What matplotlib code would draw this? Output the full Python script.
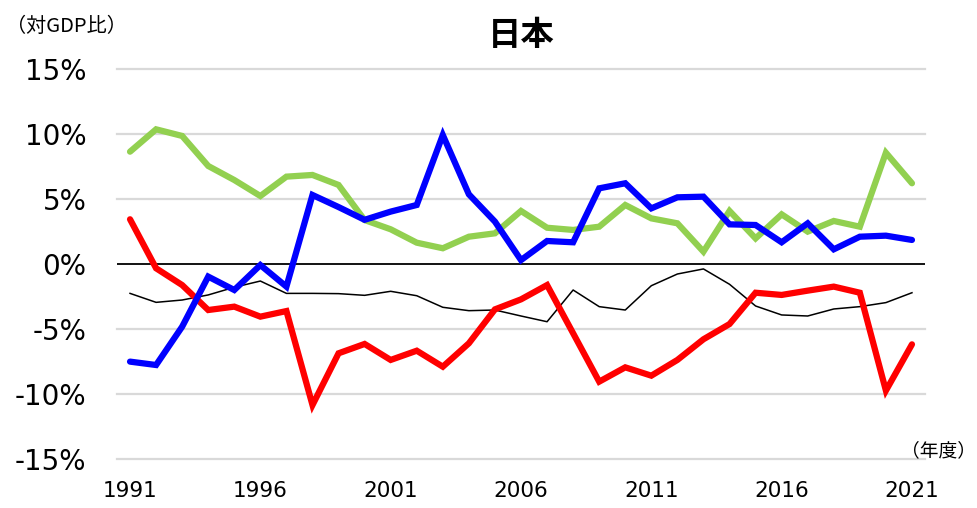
import numpy as np
import matplotlib.pyplot as plt

plt.rcParams['font.family'] = ['DejaVu Sans', 'Noto Sans CJK JP']

# 年度
years = list(range(1991, 2022))

# 各部門の収支（対GDP比, %）
green = [8.64, 10.36, 9.85, 7.54, 6.46, 5.23, 6.72, 6.85, 6.08, 3.38,
         2.67, 1.64, 1.21, 2.10, 2.36, 4.08, 2.79, 2.62, 2.87, 4.54,
         3.51, 3.13, 0.95, 4.08, 1.97, 3.82, 2.49, 3.31, 2.87, 8.56, 6.21]
blue = [-7.51, -7.77, -4.82, -0.97, -2.00, -0.08, -1.74, 5.31, 4.38, 3.40,
        4.03, 4.54, 9.92, 5.36, 3.26, 0.30, 1.77, 1.67, 5.82, 6.21,
        4.28, 5.13, 5.18, 3.05, 3.00, 1.67, 3.13, 1.13, 2.10, 2.18, 1.85]
red = [3.44, -0.33, -1.62, -3.54, -3.28, -4.05, -3.62, -10.85, -6.87, -6.15,
       -7.38, -6.67, -7.90, -6.10, -3.49, -2.72, -1.62, -5.33, -9.05, -7.95,
       -8.59, -7.38, -5.79, -4.62, -2.21, -2.38, -2.05, -1.74, -2.21, -9.74, -6.18]
black = [-2.26, -2.95, -2.77, -2.38, -1.79, -1.31, -2.26, -2.26, -2.28, -2.41,
         -2.10, -2.44, -3.33, -3.59, -3.54, -4.00, -4.44, -2.00, -3.28, -3.54,
         -1.67, -0.77, -0.38, -1.56, -3.23, -3.92, -4.00, -3.46, -3.28, -2.97, -2.21]

yticks = [-15, -10, -5, 0, 5, 10, 15]
ytick_labels = ['-15%', '-10%', '-5%', '0%', '5%', '10%', '15%']
xtick_years = [1991, 1996, 2001, 2006, 2011, 2016, 2021]

fig = plt.figure(figsize=(9.78, 5.08), dpi=100)
ax = fig.add_axes([117 / 978, 49 / 508, 808 / 978, 390 / 508])

x = np.arange(len(years))

# 目盛線
for v in yticks:
    if v == 0:
        continue
    ax.axhline(v, color='#d9d9d9', lw=1.6, zorder=1, clip_on=False)
ax.axhline(0, color='black', lw=1.3, zorder=2)

ax.plot(x, black, color='black', lw=1.1, zorder=3)
ax.plot(x, red, color='#ff0000', lw=4.5, zorder=4, solid_capstyle='round', solid_joinstyle='miter')
ax.plot(x, green, color='#92d050', lw=4.5, zorder=5, solid_capstyle='round', solid_joinstyle='miter')
ax.plot(x, blue, color='#0000ff', lw=4.5, zorder=6, solid_capstyle='round', solid_joinstyle='miter')

ax.set_xlim(-0.5, len(years) - 0.5)
ax.set_ylim(-15, 15)
ax.set_yticks(yticks)
ax.set_yticklabels(ytick_labels, fontsize=20)
ax.set_xticks([years.index(y) for y in xtick_years])
ax.set_xticklabels([str(y) for y in xtick_years], fontsize=15.5)
ax.tick_params(axis='y', length=0, pad=22)
ax.tick_params(axis='x', length=0, pad=16)
for s in ax.spines.values():
    s.set_visible(False)

cjk = ['Noto Sans CJK JP', 'DejaVu Sans']
fig.text(521 / 978, 1 - 36 / 508, '日本', ha='center', va='center',
         fontsize=24, fontweight='bold', family=cjk)
fig.text(6 / 978, 1 - 26 / 508, '（対GDP比）', ha='left', va='center',
         fontsize=14.5, family=cjk)
fig.text(976 / 978, 1 - 451 / 508, '（年度）', ha='right', va='center',
         fontsize=13.5, family=cjk)

fig.savefig('out.png', dpi=100)
